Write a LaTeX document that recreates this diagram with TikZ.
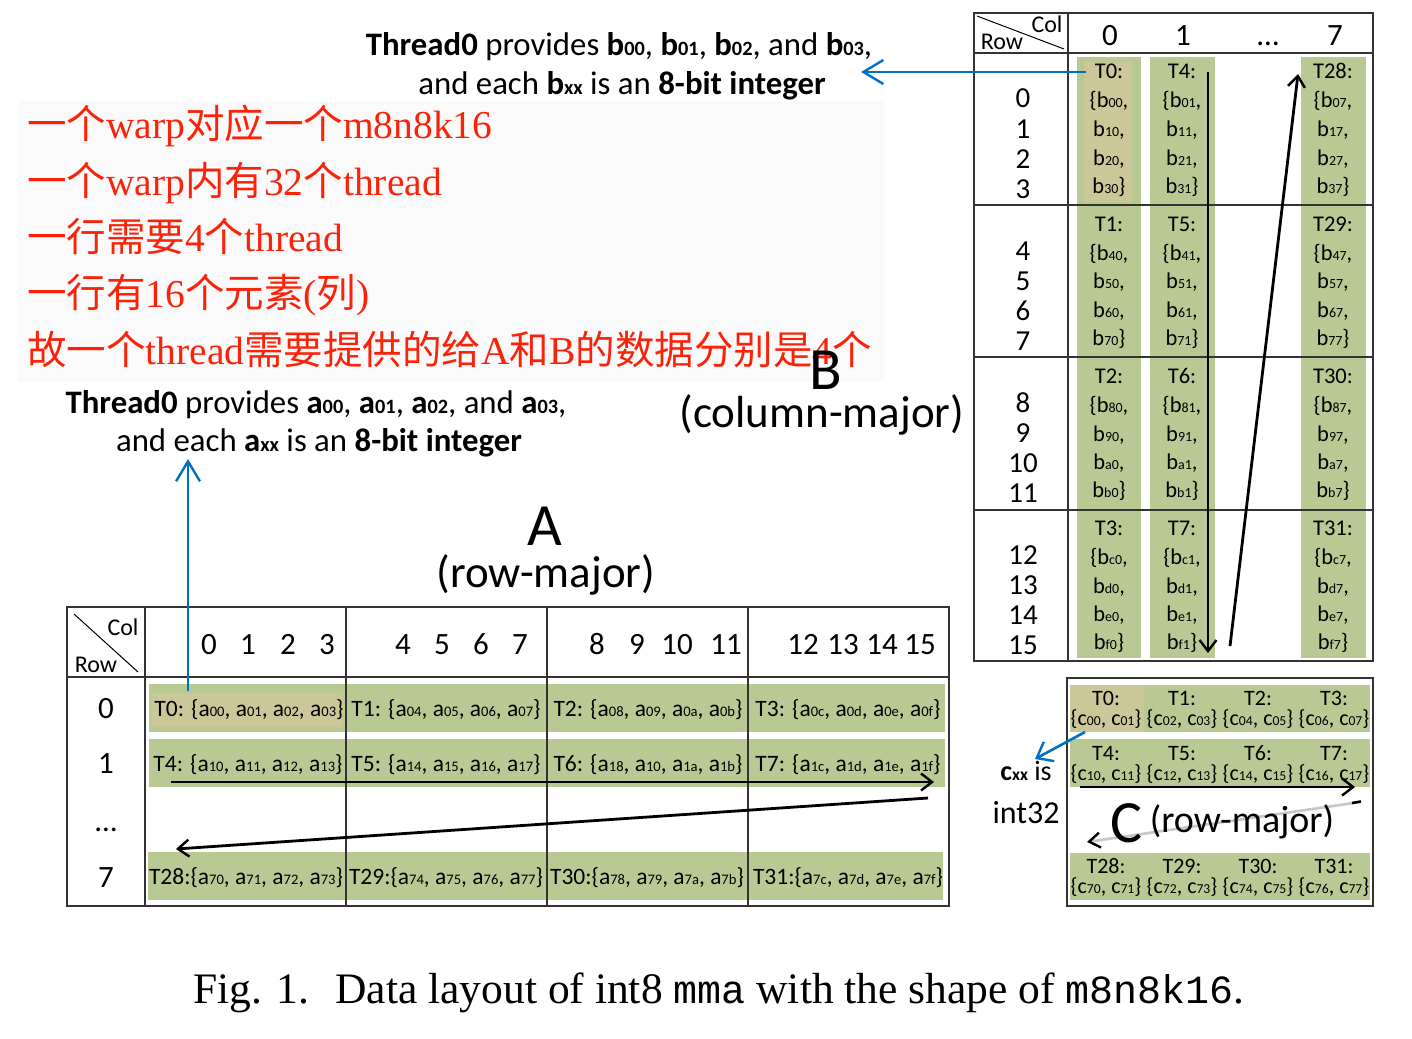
\documentclass[tikz,border=0pt]{standalone}
\usepackage{fontspec}
\setmainfont{Carlito}
\newfontfamily\cjk{Noto Sans CJK SC}
\newfontfamily\serifz{Liberation Serif}
\newfontfamily\monoz{Liberation Mono}
\usetikzlibrary{arrows.meta}
\definecolor{gcol}{RGB}{184,201,148}
\definecolor{tcol}{RGB}{203,199,153}
\definecolor{bcol}{RGB}{0,112,192}
\definecolor{rcol}{RGB}{250,35,10}
\newcommand\fsz[1]{\fontsize{#1}{#1}\selectfont}
\newcommand\smx[1]{\scalebox{0.62}{#1}}
\newcommand\zh[1]{{\cjk #1}}
\begin{document}
\begin{tikzpicture}[x=1pt,y=-1pt,
  tbl/.style={draw=black!80,line width=1.3pt},
  txt/.style={inner sep=0pt,anchor=base},
  bcell/.style={txt,font=\fsz{22.5}},
  acell/.style={txt,font=\fsz{23.5}},
  ccell/.style={txt,font=\fsz{22}},
  lbl/.style={txt,font=\fsz{29}},
  hdr/.style={txt,font=\fsz{31}},
  redl/.style={inner sep=0pt,anchor=base west,text=rcol,font=\serifz\fsz{39.5}},
  arr/.style={line width=2.8pt,-{Straight Barb[length=11pt,width=17pt,line width=2.4pt]}},
  barr/.style={bcol,line width=2.6pt,-{Straight Barb[length=20pt,width=24pt,line width=2.4pt]}}]
\useasboundingbox (0,0) rectangle (1412,1038);
\fill[white] (0,0) rectangle (1412,1038);

% ---------- red annotation ----------
\fill[black!2] (18,101) rectangle (884,382);
\node[redl] (r1) at (27,139) {\zh{一个}warp\zh{对应一个}m8n8k16};
\node[redl] (r2) at (27,195) {\zh{一个}warp\zh{内有}32\zh{个}thread};
\node[redl] (r3) at (27,251) {\zh{一行需要}4\zh{个}thread};
\node[redl] (r4) at (27,307) {\zh{一行有}16\zh{个元素}(\zh{列})};
\node[redl] (r5) at (27,364) {\zh{故一个}thread\zh{需要提供的给}A\zh{和}B\zh{的数据分别是}4\zh{个}};

% ---------- top text (B) ----------
\node[txt,font=\fsz{32.8}] (tb1) at (619,56) {\textbf{Thread0} provides \textbf{b\smx{00}}, \textbf{b\smx{01}}, \textbf{b\smx{02}}, and \textbf{b\smx{03}},};
\node[txt,font=\fsz{32.8}] (tb2) at (622,95) {and each \textbf{b\smx{xx}} is an \textbf{8-bit integer}};

% ---------- B table ----------
\fill[gcol] (1077,57) rectangle (1141,658);
\fill[gcol] (1150,57) rectangle (1215,658);
\fill[gcol] (1301,57) rectangle (1366,658);
\fill[tcol] (1084,62) rectangle (1132,202);
\draw[tbl] (974,13) rectangle (1373,661);
\foreach \yy in {53,205,357,510} \draw[tbl] (974,\yy) -- (1373,\yy);
\draw[tbl] (1068,13) -- (1068,661);
\draw[line width=1pt] (977,16) -- (1064,49);
\node[txt,font=\fsz{24}] (bcol) at (1047,33) {Col};
\node[txt,font=\fsz{24}] (brow) at (1002,50) {Row};
\node[hdr] (bh0) at (1110,46) {0};
\node[hdr] (bh1) at (1183,46) {1};
\node[hdr] (bh2) at (1268,46) {\dots};
\node[hdr] (bh7) at (1335,46) {7};
\foreach \k/\ra/\rb/\rc/\rd/\la/\lb/\lc/\ld in {0/0/1/2/3/0/1/2/3,1/4/5/6/7/4/5/6/7,2/8/9/a/b/8/9/10/11,3/c/d/e/f/12/13/14/15}{
  \pgfmathsetmacro\ty{53+152.3*\k}
  \node[lbl] (bl\la) at (1023,\ty+55) {\la};
  \node[lbl] (bl\lb) at (1023,\ty+85) {\lb};
  \node[lbl] (bl\lc) at (1023,\ty+115) {\lc};
  \node[lbl] (bl\ld) at (1023,\ty+145) {\ld};
  \foreach \c/\cx/\toff in {0/1109/0,1/1182/4,7/1333/28}{
    \pgfmathtruncatemacro\tn{\toff+\k}
    \node[bcell] (bT\tn) at (\cx,\ty+26) {T\tn:};
    \node[bcell] (bA\tn) at (\cx,\ty+55) {\{b\smx{\ra\c},};
    \node[bcell] (bB\tn) at (\cx,\ty+83.5) {b\smx{\rb\c},};
    \node[bcell] (bC\tn) at (\cx,\ty+112) {b\smx{\rc\c},};
    \node[bcell] (bD\tn) at (\cx,\ty+140) {b\smx{\rd\c}\}};
  }
}
\coordinate (bd1) at (1208,72);
\coordinate (bd2) at (1208,653);
\coordinate (bu1) at (1230,646);
\coordinate (bu2) at (1298,74);
\draw[arr] (bd1) -- (bd2);
\draw[arr] (bu1) -- (bu2);
\coordinate (bt0) at (1086,72);
\coordinate (btip) at (861,72);
\draw[barr] (bt0) -- (btip);

\node[txt,font=\fsz{60}] (Bt) at (826,389) {B};
\node[txt,font=\fsz{45}] (Bs) at (822,427) {(column-major)};

% ---------- left text (A) ----------
\node[txt,font=\fsz{32.8}] (ta1) at (316,413) {\textbf{Thread0} provides \textbf{a\smx{00}}, \textbf{a\smx{01}}, \textbf{a\smx{02}}, and \textbf{a\smx{03}},};
\node[txt,font=\fsz{32.8}] (ta2) at (319,451) {and each \textbf{a\smx{xx}} is an \textbf{8-bit integer}};
\node[txt,font=\fsz{60}] (At) at (545,545) {A};
\node[txt,font=\fsz{45}] (As) at (546,587) {(row-major)};

% ---------- A table ----------
\fill[gcol] (149,684) rectangle (945,732);
\fill[gcol] (149,739) rectangle (945,787);
\fill[gcol] (148,852) rectangle (943,900);
\fill[tcol] (152,693) rectangle (343,727);
\draw[tbl] (67,607) rectangle (949,906);
\draw[tbl] (67,677) -- (949,677);
\foreach \xx in {145,346,547,748} \draw[tbl] (\xx,607) -- (\xx,906);
\draw[line width=1pt] (74,614) -- (138,672);
\node[txt,font=\fsz{24}] (acol) at (123,635) {Col};
\node[txt,font=\fsz{24}] (arow) at (96,672) {Row};
\foreach \n/\hx in {0/209,1/248,2/288,3/327,4/403,5/442,6/481,7/520,8/597,9/637,10/677,11/726,12/803,13/843,14/882,15/920}
  \node[hdr] (ah\n) at (\hx,654) {\n};
\node[hdr] (al0) at (106,718) {0};
\node[hdr] (al1) at (106,773) {1};
\node[hdr] (al2) at (106,831) {\dots};
\node[hdr] (al7) at (106,887) {7};
\node[acell] (aT0) at (249,716) {T0: \{a\smx{00}, a\smx{01}, a\smx{02}, a\smx{03}\}};
\node[acell] (aT1) at (446,716) {T1: \{a\smx{04}, a\smx{05}, a\smx{06}, a\smx{07}\}};
\node[acell] (aT2) at (648,716) {T2: \{a\smx{08}, a\smx{09}, a\smx{0a}, a\smx{0b}\}};
\node[acell] (aT3) at (848,716) {T3: \{a\smx{0c}, a\smx{0d}, a\smx{0e}, a\smx{0f}\}};
\node[acell] (aT4) at (248,771) {T4: \{a\smx{10}, a\smx{11}, a\smx{12}, a\smx{13}\}};
\node[acell] (aT5) at (446,771) {T5: \{a\smx{14}, a\smx{15}, a\smx{16}, a\smx{17}\}};
\node[acell] (aT6) at (648,771) {T6: \{a\smx{18}, a\smx{10}, a\smx{1a}, a\smx{1b}\}};
\node[acell] (aT7) at (848,771) {T7: \{a\smx{1c}, a\smx{1d}, a\smx{1e}, a\smx{1f}\}};
\node[acell] (aT28) at (246,884) {T28:\{a\smx{70}, a\smx{71}, a\smx{72}, a\smx{73}\}};
\node[acell] (aT29) at (446,884) {T29:\{a\smx{74}, a\smx{75}, a\smx{76}, a\smx{77}\}};
\node[acell] (aT30) at (647,884) {T30:\{a\smx{78}, a\smx{79}, a\smx{7a}, a\smx{7b}\}};
\node[acell] (aT31) at (848,884) {T31:\{a\smx{7c}, a\smx{7d}, a\smx{7e}, a\smx{7f}\}};
\coordinate (ar1) at (171,782);
\coordinate (ar2) at (934,782);
\coordinate (ar3) at (928,798);
\coordinate (ar4) at (176,849);
\draw[arr] (ar1) -- (ar2);
\draw[arr] (ar3) -- (ar4);
\coordinate (at0) at (188,691);
\coordinate (atip) at (188,459);
\draw[barr] (at0) -- (atip);

% ---------- C table ----------
\fill[gcol] (1070,685) rectangle (1370,732);
\fill[gcol] (1070,739) rectangle (1370,787);
\fill[gcol] (1070,853) rectangle (1370,900);
\fill[tcol] (1070,685) rectangle (1144,732);
\draw[tbl] (1067,678) rectangle (1373,906);
\foreach \cc/\cx/\ta/\tb/\tc/\ca/\cb/\cc/\cd/\ce/\cf in {0/1106/0/4/28/00/01/10/11/70/71,1/1182/1/5/29/02/03/12/13/72/73,2/1258/2/6/30/04/05/14/15/74/75,3/1334/3/7/31/06/07/16/17/76/77}{
  \node[ccell] (cT\ta) at (\cx,705) {T\ta:};
  \node[ccell] (cV\ta) at (\cx,725) {\{c\smx{\ca}, c\smx{\cb}\}};
  \node[ccell] (cT\tb) at (\cx,760) {T\tb:};
  \node[ccell] (cV\tb) at (\cx,780) {\{c\smx{\cc}, c\smx{\cd}\}};
  \node[ccell] (cT\tc) at (\cx,873) {T\tc:};
  \node[ccell] (cV\tc) at (\cx,893) {\{c\smx{\ce}, c\smx{\cf}\}};
}
\coordinate (cr1) at (1080,787);
\coordinate (cr2) at (1355,787);
\draw[arr,line width=2.6pt] (cr1) -- (cr2);
\coordinate (cr3) at (1360,802);
\coordinate (cr4) at (1087,842);
\draw[line width=2.6pt,black!22,-{Straight Barb[color=black,length=11pt,width=15pt,line width=2.4pt]}] (cr3) -- (cr4);
\draw[line width=2.6pt] (1361,801.5) -- (1352,803);
\node[txt,font=\fsz{60}] (Ct) at (1126,842) {C};
\node[txt,font=\fsz{38}] (Cs) at (1242,832) {(row-major)};
\node[txt,font=\fsz{28}] (cxx) at (1026,780) {\textbf{c\smx{xx}} is};
\node[txt,font=\fsz{32}] (i32) at (1026,823) {int32};
\coordinate (ct0) at (1085,732);
\coordinate (ctip) at (1035,759);
\draw[bcol,line width=2.6pt,-{Straight Barb[length=14pt,width=22pt,line width=2.4pt]}] (ct0) -- (ctip);

% ---------- caption ----------
\node[txt,font=\serifz\fsz{43.5}] (cap) at (719,1003) {Fig. 1.\hspace{0.6em}Data layout of int8 {\monoz\fsz{40}mma} with the shape of {\monoz\fsz{40}m8n8k16}.};
\end{tikzpicture}
\end{document}
